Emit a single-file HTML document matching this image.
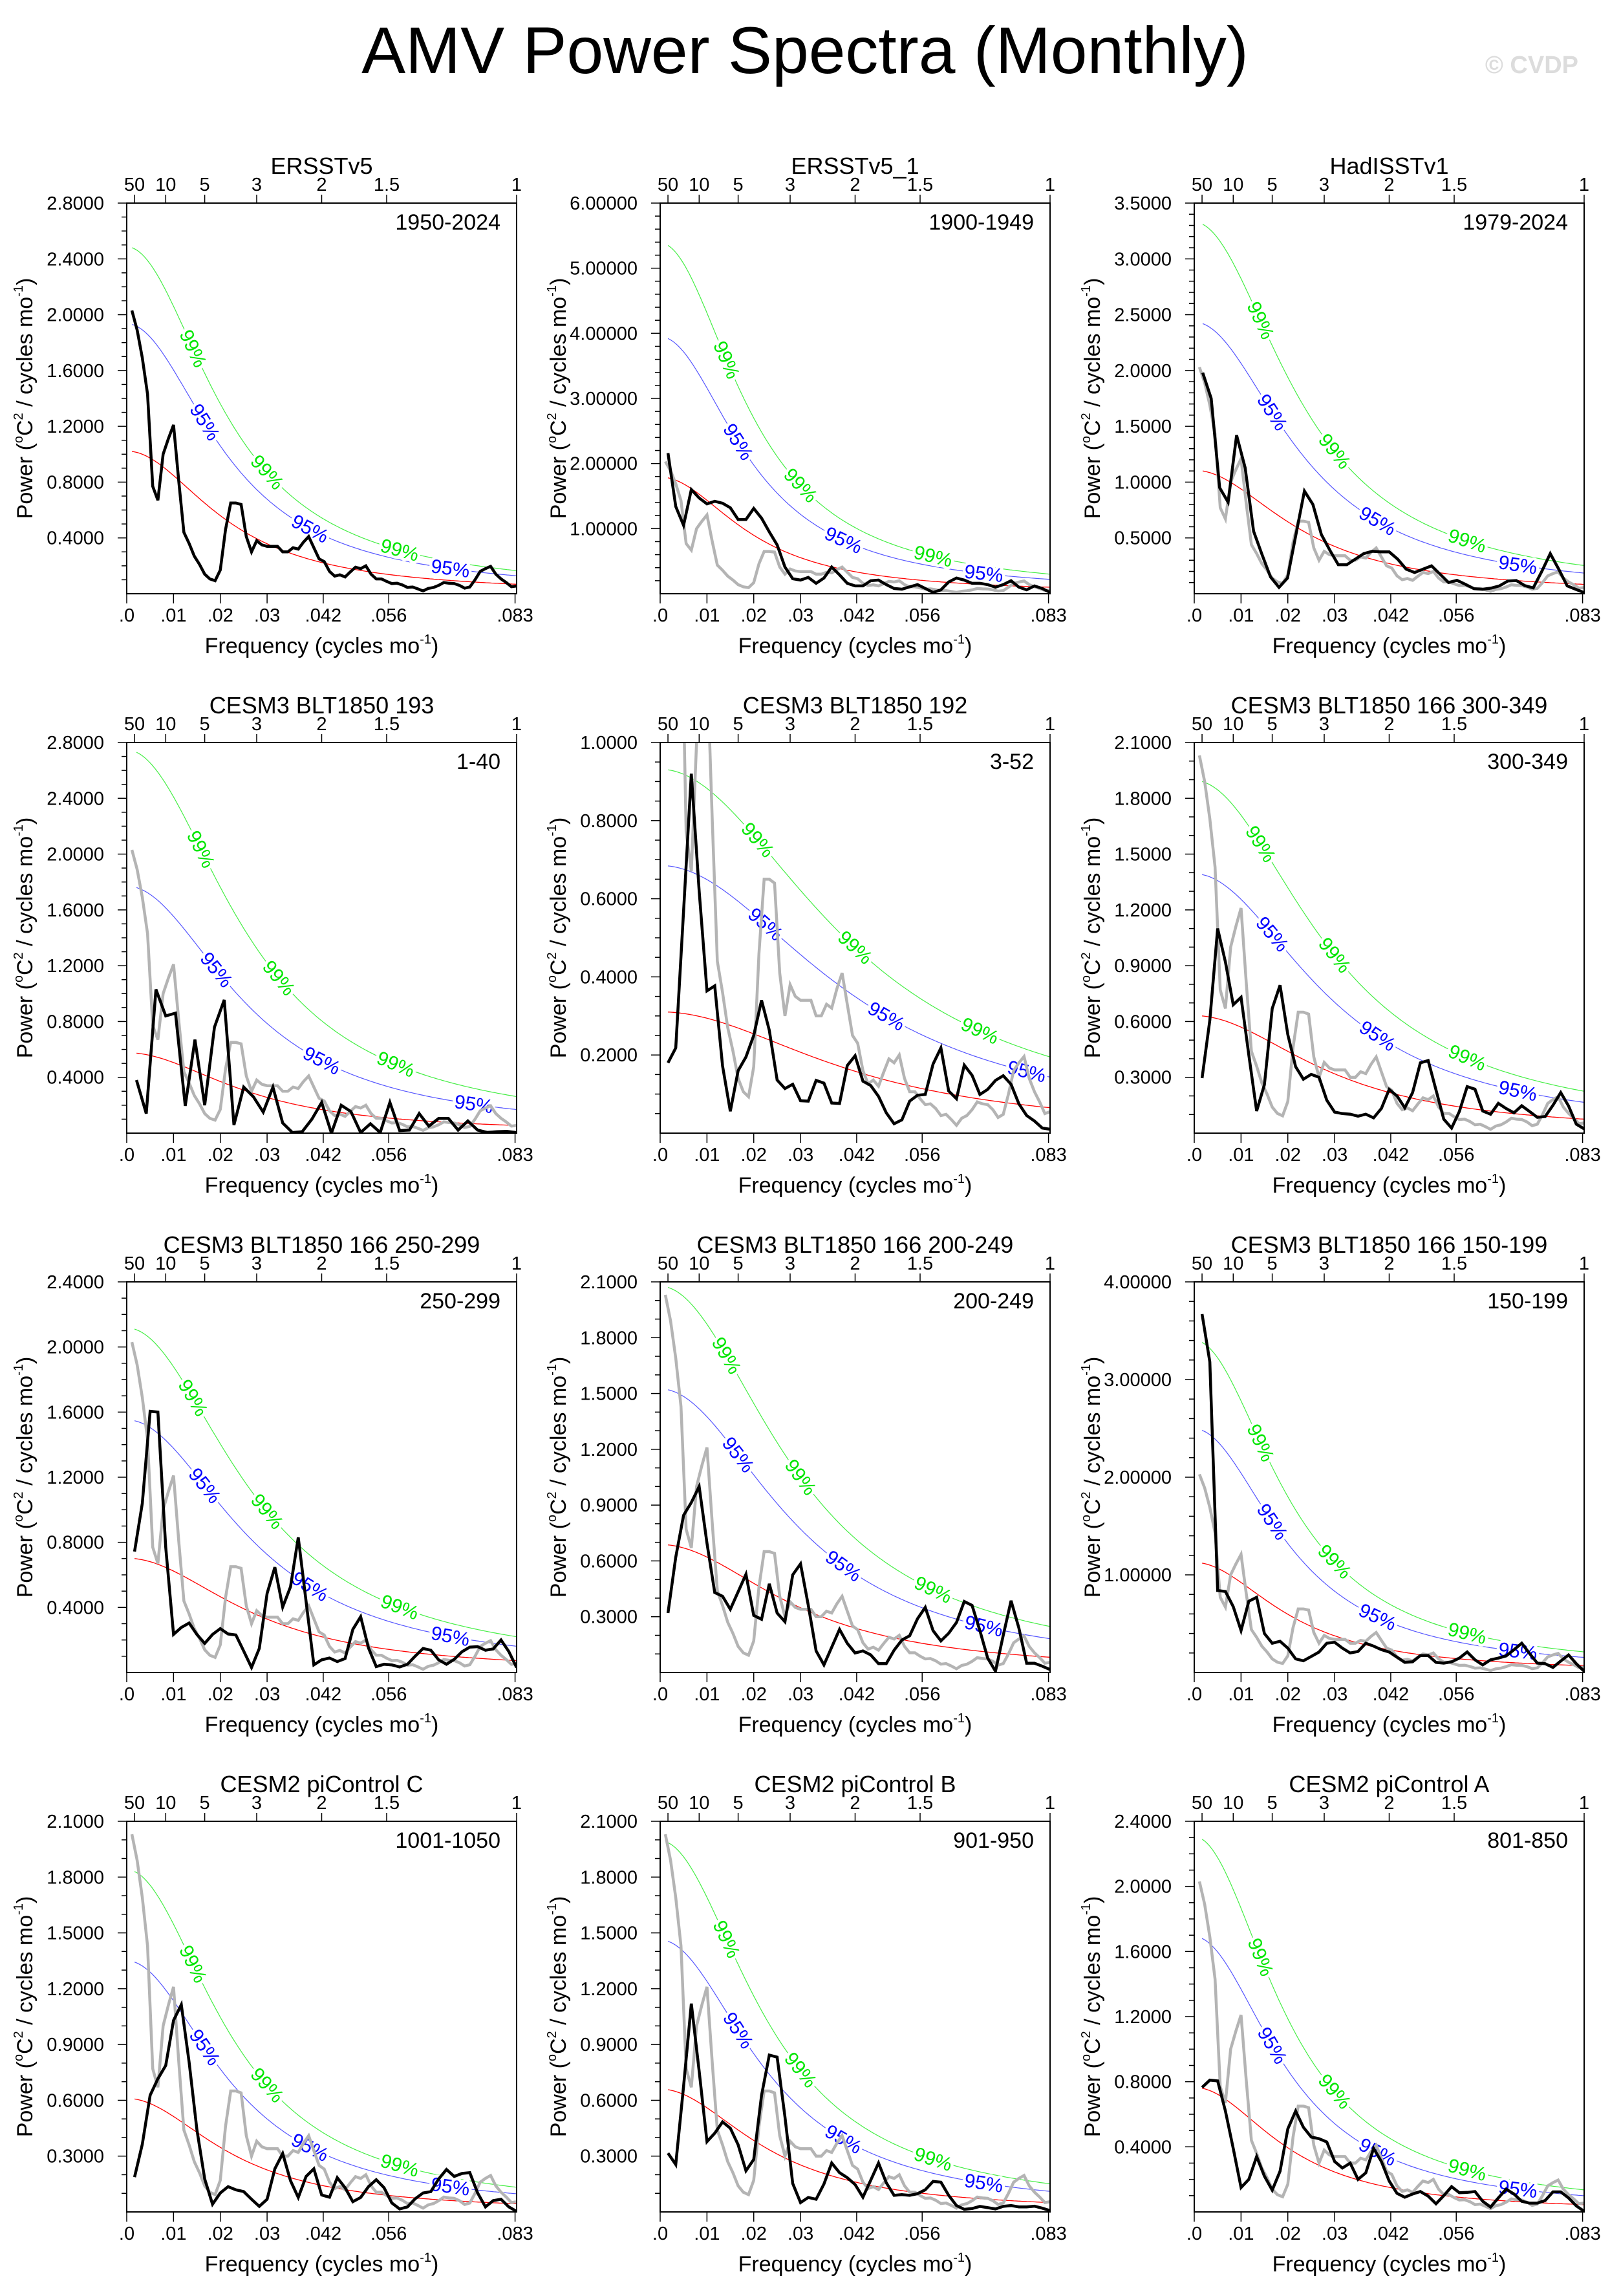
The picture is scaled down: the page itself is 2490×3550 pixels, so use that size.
<!DOCTYPE html>
<html><head><meta charset="utf-8"><title>AMV Power Spectra (Monthly)</title>
<style>
html,body{margin:0;padding:0;background:#fff;}
svg{display:block;font-family:"Liberation Sans",Arial,sans-serif;}
</style></head>
<body>
<svg id="fig" xmlns="http://www.w3.org/2000/svg" width="2490" height="3550" viewBox="0 0 2490 3550">
<rect x="0" y="0" width="2490" height="3550" fill="#fff"/>
<text x="1245" y="113" font-size="102" text-anchor="middle" fill="#000">AMV Power Spectra (Monthly)</text>
<text x="2441" y="113" font-size="38" font-weight="bold" text-anchor="end" fill="#dcdcdc">© CVDP</text>
<g id="panels"></g>
</svg>
<script>
// ---- data ----
const ersstv5 = [2.03,1.89,1.69,1.43,0.77,0.67,1.0,1.11,1.21,0.81,0.44,0.36,0.27,0.21,0.14,0.106,0.093,0.17,0.46,0.65,0.65,0.64,0.41,0.30,0.38,0.35,0.34,0.34,0.34,0.30,0.30,0.33,0.32,0.37,0.41,0.33,0.25,0.23,0.16,0.126,0.136,0.12,0.156,0.19,0.18,0.20,0.14,0.106,0.106,0.088,0.073,0.075,0.063,0.045,0.048,0.035,0.02,0.038,0.045,0.06,0.08,0.075,0.073,0.06,0.04,0.048,0.1,0.16,0.18,0.196,0.14,0.106,0.08,0.05,0.055];
const ersstv5_1 = [2.16,1.34,1.05,1.6,1.47,1.38,1.42,1.39,1.32,1.14,1.14,1.31,1.16,0.95,0.75,0.41,0.23,0.21,0.25,0.16,0.24,0.41,0.29,0.16,0.12,0.12,0.2,0.21,0.14,0.08,0.07,0.105,0.14,0.08,0.02,0.06,0.18,0.24,0.21,0.16,0.16,0.14,0.1,0.14,0.2,0.1,0.06,0.12,0.08,0.02];
const hadisstv1 = [1.98,1.75,0.95,0.82,1.42,1.13,0.56,0.35,0.15,0.057,0.14,0.53,0.92,0.8,0.53,0.39,0.26,0.26,0.31,0.36,0.38,0.375,0.375,0.31,0.22,0.19,0.22,0.25,0.175,0.1,0.12,0.084,0.045,0.04,0.05,0.07,0.114,0.118,0.073,0.052,0.2,0.36,0.22,0.07,0.04,0.01];
const cesm3_193 = [0.38,0.14,1.03,0.84,0.86,0.195,0.67,0.2,0.76,0.955,0.058,0.33,0.26,0.15,0.33,0.073,0.004,0.01,0.1,0.22,0.0,0.2,0.155,0.004,0.067,0.004,0.22,0.018,0.022,0.14,0.05,0.105,0.105,0.022,0.087,0.022,0.005,0.01,0.013,0.004];
const cesm3_192 = [0.18,0.218,0.568,0.92,0.62,0.364,0.377,0.172,0.056,0.16,0.195,0.25,0.34,0.263,0.136,0.114,0.125,0.083,0.082,0.135,0.128,0.077,0.076,0.173,0.198,0.133,0.122,0.094,0.052,0.024,0.034,0.082,0.097,0.099,0.177,0.218,0.108,0.088,0.174,0.148,0.099,0.112,0.135,0.147,0.125,0.075,0.045,0.031,0.013,0.01];
const cesm3_166_300 = [0.296,0.607,1.1,0.92,0.69,0.73,0.42,0.119,0.26,0.67,0.795,0.53,0.357,0.29,0.316,0.3,0.177,0.113,0.105,0.102,0.091,0.102,0.082,0.132,0.235,0.2,0.136,0.218,0.378,0.39,0.232,0.075,0.027,0.116,0.25,0.236,0.119,0.102,0.16,0.132,0.109,0.147,0.116,0.085,0.089,0.15,0.218,0.146,0.048,0.023];
const cesm3_166_250 = [0.743,1.04,1.605,1.6,0.77,0.234,0.277,0.304,0.234,0.179,0.234,0.27,0.237,0.231,0.132,0.031,0.148,0.486,0.647,0.402,0.527,0.83,0.436,0.047,0.078,0.089,0.067,0.086,0.265,0.343,0.151,0.036,0.051,0.047,0.034,0.051,0.101,0.148,0.137,0.078,0.051,0.081,0.128,0.156,0.159,0.137,0.145,0.2,0.129,0.031];
const cesm3_166_200 = [0.32,0.62,0.845,0.914,1.0,0.695,0.43,0.41,0.34,0.434,0.528,0.307,0.286,0.477,0.32,0.273,0.525,0.584,0.361,0.116,0.041,0.136,0.232,0.157,0.105,0.116,0.095,0.048,0.048,0.12,0.175,0.198,0.289,0.35,0.225,0.17,0.211,0.269,0.382,0.361,0.225,0.078,0.007,0.2,0.386,0.239,0.05,0.05,0.034,0.016];
const cesm3_166_150 = [3.67,3.18,0.84,0.83,0.675,0.43,0.73,0.77,0.4,0.3,0.32,0.25,0.14,0.12,0.164,0.21,0.3,0.31,0.25,0.2,0.216,0.3,0.27,0.234,0.21,0.156,0.104,0.11,0.174,0.174,0.104,0.096,0.11,0.148,0.21,0.13,0.078,0.13,0.148,0.17,0.234,0.3,0.195,0.096,0.09,0.052,0.117,0.18,0.09,0.013];
const cesm2_c = [0.187,0.364,0.627,0.716,0.787,1.03,1.114,0.805,0.443,0.177,0.041,0.102,0.136,0.119,0.109,0.068,0.03,0.068,0.232,0.314,0.168,0.078,0.191,0.232,0.091,0.079,0.184,0.13,0.055,0.078,0.136,0.173,0.13,0.048,0.016,0.027,0.071,0.102,0.109,0.177,0.228,0.191,0.207,0.211,0.102,0.027,0.061,0.068,0.027,0.003];
const cesm2_b = [0.316,0.255,0.675,1.12,0.757,0.378,0.423,0.484,0.45,0.361,0.221,0.282,0.627,0.843,0.832,0.511,0.153,0.05,0.078,0.068,0.15,0.263,0.211,0.184,0.147,0.079,0.17,0.263,0.157,0.089,0.093,0.089,0.098,0.119,0.164,0.16,0.089,0.034,0.014,0.018,0.03,0.023,0.016,0.03,0.034,0.027,0.027,0.031,0.02,0.007];
const cesm2_a = [0.765,0.81,0.805,0.62,0.39,0.15,0.2,0.34,0.22,0.134,0.25,0.51,0.62,0.52,0.46,0.45,0.43,0.31,0.27,0.30,0.2,0.24,0.39,0.31,0.19,0.114,0.09,0.11,0.125,0.097,0.05,0.1,0.155,0.118,0.12,0.125,0.065,0.03,0.086,0.14,0.11,0.065,0.054,0.054,0.07,0.123,0.123,0.086,0.037,0.004];

const panelTitles = ["ERSSTv5","ERSSTv5_1","HadISSTv1","CESM3 BLT1850 193","CESM3 BLT1850 192","CESM3 BLT1850 166 300-349","CESM3 BLT1850 166 250-299","CESM3 BLT1850 166 200-249","CESM3 BLT1850 166 150-199","CESM2 piControl C","CESM2 piControl B","CESM2 piControl A"];
const panelPeriods = ["1950-2024","1900-1949","1979-2024","1-40","3-52","300-349","250-299","200-249","150-199","1001-1050","901-950","801-850"];
const panelSeries = [ersstv5,ersstv5_1,hadisstv1,cesm3_193,cesm3_192,cesm3_166_300,cesm3_166_250,cesm3_166_200,cesm3_166_150,cesm2_c,cesm2_b,cesm2_a];
const showGray = [false,true,true,true,true,true,true,true,true,true,true,true];
const yMaxes = [2.8,6,3.5,2.8,1.0,2.1,2.4,2.1,4,2.1,2.1,2.4];
const yMajorSteps = [0.4,1,0.5,0.4,0.2,0.3,0.4,0.3,1,0.3,0.3,0.4];
const yMinorSteps = [0.1,0.2,0.1,0.1,0.05,0.1,0.1,0.1,0.2,0.1,0.1,0.1];
const yDecimals = [4,5,4,4,4,4,4,4,5,4,4,4];
const redStart = [1.02,1.78,1.10,0.573,0.31,0.63,0.70,0.686,1.12,0.607,0.657,0.76];
const redEnd = [0.068,0.1,0.084,0.055,0.065,0.075,0.073,0.082,0.07,0.044,0.05,0.045];
const sig95Start = [1.93,3.92,2.42,1.76,0.684,1.39,1.547,1.52,2.48,1.343,1.455,1.68];
const sig99Start = [2.48,5.35,3.31,2.73,0.93,1.89,2.11,2.07,3.38,1.83,1.985,2.29];
const xTickValues = [0,0.01,0.02,0.03,0.042,0.056,0.083];
const xTickLabels = [".0",".01",".02",".03",".042",".056",".083"];
const topPeriods = [50,10,5,3,2,1.5,1];
const topLabels = ["50","10","5","3","2","1.5","1"];

const NS="http://www.w3.org/2000/svg";
const FMAX=1/12, W=603, H=604;
const colLefts=[196,1021,1847], rowTops=[314,1148,1982,2816];
function mk(tag,attrs,parent){const e=document.createElementNS(NS,tag);for(const k in attrs)e.setAttribute(k,attrs[k]);if(parent)parent.appendChild(e);return e;}

function solveRho(ratio,f1){
  let lo=0,hi=0.999;
  const D=(r,f)=>1-2*r*Math.cos(2*Math.PI*f)+r*r;
  for(let i=0;i<60;i++){const m=(lo+hi)/2;const q=D(m,FMAX)/D(m,f1);if(q<ratio)lo=m;else hi=m;}
  return (lo+hi)/2;
}

const root=document.getElementById('panels');
for(let p=0;p<12;p++){
  const L=colLefts[p%3], T=rowTops[Math.floor(p/3)];
  const ymax=yMaxes[p];
  const xs=f=>L+f/FMAX*W;
  const ys=v=>T+H-v/ymax*H;
  const g=mk('g',{},root);
  
  
  const cp=mk('clipPath',{id:'clip'+p},g);
  mk('rect',{x:L,y:T,width:W,height:H},cp);

  const t=mk('text',{x:L+W/2,y:T-45,'font-size':36,'text-anchor':'middle',fill:'#000'},g);
  t.textContent=panelTitles[p];
  
  
  const st=mk('text',{x:L+W-25,y:T+41,'font-size':34,'text-anchor':'end',fill:'#000'},g);
  st.textContent=panelPeriods[p];
  
  

  const nMinor=Math.round(ymax/yMinorSteps[p]);
  for(let i=1;i<=nMinor;i++){
    const v=i*yMinorSteps[p];
    const major=Math.abs(v/yMajorSteps[p]-Math.round(v/yMajorSteps[p]))<1e-6;
    const y=ys(v);
    const tk=mk('line',{x1:L-(major?14:8),x2:L,y1:y,y2:y,stroke:'#000','stroke-width':1.5},g);
    
    
    if(major){
      const tl=mk('text',{x:L-35,y:y+10,'font-size':29,'text-anchor':'end',fill:'#000'},g);
      tl.textContent=v.toFixed(yDecimals[p]);
      
      
    }
  }
  for(let i=0;i<xTickValues.length;i++){
    const x=xs(xTickValues[i]);
    const tk=mk('line',{x1:x,x2:x,y1:T+H,y2:T+H+15,stroke:'#000','stroke-width':1.5},g);
    
    
    const tl=mk('text',{x:x,y:T+H+43,'font-size':29,'text-anchor':'middle',fill:'#000'},g);
    tl.textContent=xTickLabels[i];
    
    
  }
  for(let i=0;i<topPeriods.length;i++){
    const x=xs(1/(12*topPeriods[i]));
    const tk=mk('line',{x1:x,x2:x,y1:T,y2:T-13,stroke:'#000','stroke-width':1.5},g);
    
    
    const tl=mk('text',{x:x,y:T-19,'font-size':29,'text-anchor':'middle',fill:'#000'},g);
    tl.textContent=topLabels[i];
    
    
  }
  const xt=mk('text',{x:L+W/2,y:T+H+92,'font-size':34,'text-anchor':'middle',fill:'#000'},g);
  xt.innerHTML='Frequency (cycles mo<tspan font-size="20" dy="-15">-1</tspan><tspan dy="15">)</tspan>';
  
  
  const yt=mk('text',{x:0,y:0,'font-size':34,'text-anchor':'middle',fill:'#000',transform:'translate('+(L-146)+','+(T+H/2)+') rotate(-90)'},g);
  yt.innerHTML='Power (<tspan font-size="20" dy="-15">o</tspan><tspan dy="15">C</tspan><tspan font-size="20" dy="-15">2</tspan><tspan dy="15"> / cycles mo</tspan><tspan font-size="20" dy="-15">-1</tspan><tspan dy="15">)</tspan>';
  
  

  const vals=panelSeries[p];
  const n=vals.length, f1=1/(12*n);
  const rho=solveRho(redStart[p]/redEnd[p],f1);
  const A=redStart[p]*(1-2*rho*Math.cos(2*Math.PI*f1)+rho*rho);
  const red=f=>A/(1-2*rho*Math.cos(2*Math.PI*f)+rho*rho);
  const curves=[
    {k:1,col:'#ff0000',w:1.3,name:'red-noise-curve'},
    {k:sig95Start[p]/redStart[p],col:'#5555ff',w:1.2,name:'sig-95-curve'},
    {k:sig99Start[p]/redStart[p],col:'#44ee44',w:1.2,name:'sig-99-curve'}
  ];
  const cg=mk('g',{'clip-path':'url(#clip'+p+')'},g);
  curves.forEach(c=>{
    const pts=[];
    for(let i=0;i<=200;i++){const f=f1+(FMAX-f1)*i/200;pts.push([xs(f),ys(red(f)*c.k)]);}
    const pl=mk('polyline',{points:pts.map(q=>q[0].toFixed(1)+','+q[1].toFixed(1)).join(' '),fill:'none',stroke:c.col,'stroke-width':c.w},cg);
    
    
  });
  let gPos=[0.17,0.36,0.70], bPos=[0.20,0.47,0.83];
  if(p===4){gPos=[0.25,0.5,0.82];bPos=[0.27,0.58,0.94];}
  if(p===3){gPos=[0.19,0.39,0.69];bPos=[0.23,0.5,0.89];}
  const addLabels=(name,pos,txt,col)=>{
    const k=(name==='sig-95-curve')?sig95Start[p]/redStart[p]:sig99Start[p]/redStart[p];
    pos.forEach(fr=>{
      const f=FMAX*fr, df=FMAX*0.01;
      const x=xs(f), y=ys(red(f)*k);
      const dx=xs(f+df)-xs(f-df), dy=ys(red(f+df)*k)-ys(red(f-df)*k);
      const ang=Math.atan2(dy,dx)*180/Math.PI;
      const lb=mk('text',{x:0,y:10,'font-size':30,'text-anchor':'middle',fill:col,stroke:'#fff','stroke-width':9,'paint-order':'stroke','stroke-linejoin':'round',transform:'translate('+x.toFixed(1)+','+y.toFixed(1)+') rotate('+ang.toFixed(1)+')'},g);
      lb.textContent=txt;
      
      
    });
  };
  addLabels('sig-99-curve',gPos,'99%','#00e600');
  addLabels('sig-95-curve',bPos,'95%','#0000ff');

  const lg=mk('g',{'clip-path':'url(#clip'+p+')'},g);
  const drawSeries=(arr,col,w,name)=>{
    const m=arr.length;
    const pts=arr.map((v,i)=>xs((i+1)/(12*m)).toFixed(1)+','+ys(v).toFixed(1)).join(' ');
    const pl=mk('polyline',{points:pts,fill:'none',stroke:col,'stroke-width':w,'stroke-linejoin':'miter'},lg);
    
    
  };
  if(showGray[p]) drawSeries(ersstv5,'#b4b4b4',4.5,'reference-spectrum-line');
  drawSeries(vals,'#000',4.5,'spectrum-line');

  const fr=mk('rect',{x:L,y:T,width:W,height:H,fill:'none',stroke:'#000','stroke-width':2},g);
  
  
}
</script>
</body></html>
